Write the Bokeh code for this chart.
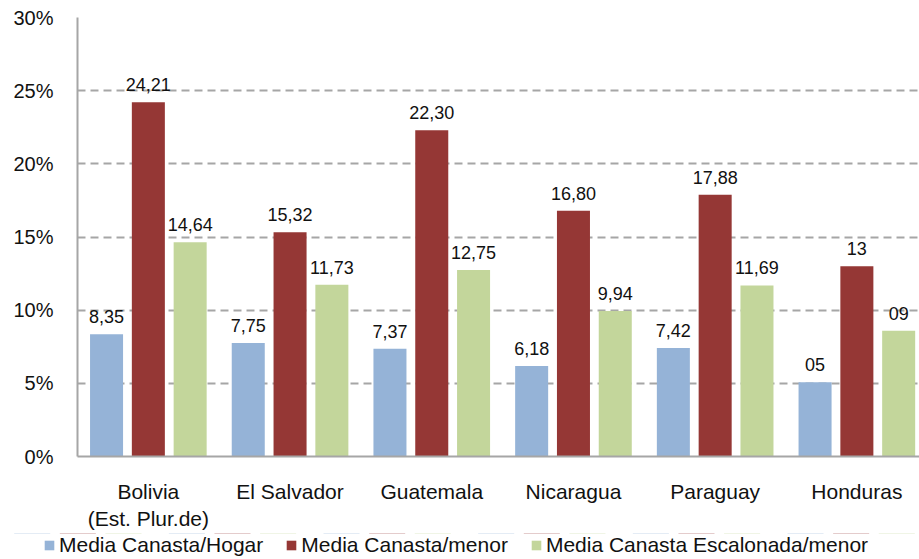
from bokeh.plotting import figure
from bokeh.layouts import column, row
from bokeh.models import (ColumnDataSource, Range1d, FixedTicker, PrintfTickFormatter,
                          LabelSet, Legend, LegendItem)
from bokeh.core.properties import value
from bokeh.embed import file_html
from bokeh.resources import INLINE

categories = ["Bolivia\n(Est. Plur.de)", "El Salvador", "Guatemala", "Nicaragua", "Paraguay", "Honduras"]
series_names = ["Media Canasta/Hogar", "Media Canasta/menor", "Media Canasta Escalonada/menor"]
hogar = [8.35, 7.75, 7.37, 6.18, 7.42, 5.07]
menor = [24.21, 15.32, 22.30, 16.80, 17.88, 13.0]
escalonada = [14.64, 11.73, 12.75, 9.94, 11.69, 8.6]
hogar_labels = ["8,35", "7,75", "7,37", "6,18", "7,42", "05"]
menor_labels = ["24,21", "15,32", "22,30", "16,80", "17,88", "13"]
escalonada_labels = ["14,64", "11,73", "12,75", "9,94", "11,69", "09"]
y_ticks = [0, 5, 10, 15, 20, 25, 30]

colors = ["#95B3D7", "#953735", "#C3D69B"]
offsets = [-0.295, 0.0, 0.295]
bar_w = 0.233
FONT = "Liberation Sans"
TXT = "#111111"

p = figure(frame_width=842, frame_height=439, output_backend="svg", toolbar_location=None,
           x_range=Range1d(0, 5.942), y_range=Range1d(0, 30),
           min_border_left=77, min_border_right=0, min_border_top=17, min_border_bottom=75)
p.outline_line_color = None
p.background_fill_color = "white"
p.border_fill_color = "white"

centers = [i + 0.5 for i in range(len(categories))]
sources = []
for vals, labs, col, off in zip([hogar, menor, escalonada],
                                [hogar_labels, menor_labels, escalonada_labels],
                                colors, offsets):
    src = ColumnDataSource(dict(x=[c + off for c in centers], top=vals, lab=labs))
    sources.append(src)
    p.vbar(x="x", top="top", bottom=0, width=bar_w, source=src,
           fill_color=col, line_color=None)
    p.add_layout(LabelSet(x="x", y="top", text="lab", source=src, y_offset=11,
                          text_align="center", text_baseline="alphabetic",
                          text_font=value(FONT), text_font_size=value("18px"),
                          text_color=value(TXT)))

# grid
p.xgrid.grid_line_color = None
p.ygrid.ticker = FixedTicker(ticks=y_ticks[1:])
p.ygrid.grid_line_color = "#A6A6A6"
p.ygrid.grid_line_dash = "8 5"
p.ygrid.grid_line_width = 1.8

# y axis
p.yaxis.ticker = FixedTicker(ticks=y_ticks)
p.yaxis.formatter = PrintfTickFormatter(format="%d%%")
p.yaxis.axis_line_color = "#A6A6A6"
p.yaxis.axis_line_width = 2
p.yaxis.major_tick_line_color = None
p.yaxis.minor_tick_line_color = None
p.yaxis.major_tick_out = 0
p.yaxis.major_tick_in = 0
p.yaxis.major_label_standoff = 24
p.yaxis.major_label_text_font = FONT
p.yaxis.major_label_text_font_size = "20px"
p.yaxis.major_label_text_color = TXT

# x axis
p.xaxis.ticker = FixedTicker(ticks=centers)
p.xaxis.major_label_overrides = {c: name for c, name in zip(centers, categories)}
p.xaxis.axis_line_color = "#A6A6A6"
p.xaxis.axis_line_width = 2
p.xaxis.major_tick_line_color = None
p.xaxis.minor_tick_line_color = None
p.xaxis.major_tick_out = 0
p.xaxis.major_tick_in = 0
p.xaxis.major_label_standoff = 23
p.xaxis.major_label_text_font = FONT
p.xaxis.major_label_text_font_size = "21px"
p.xaxis.major_label_text_color = TXT

# legend strip below the chart (series bars drawn far outside its visible range)
lg = figure(width=919, height=28, output_backend="svg", toolbar_location=None,
            x_range=Range1d(0, 5.942), y_range=Range1d(-1000, -999),
            x_axis_type=None, y_axis_type=None,
            min_border_left=0, min_border_right=0, min_border_top=0, min_border_bottom=0)
lg.outline_line_color = None
lg.background_fill_color = "white"
lg.border_fill_color = "white"
items = []
for name, col, src in zip(series_names, colors, sources):
    r = lg.vbar(x="x", top="top", bottom=0, width=bar_w, source=src,
                fill_color=col, line_color=None)
    items.append(LegendItem(label=name, renderers=[r]))
legend = Legend(items=items, orientation="horizontal", location=(43, 4),
                glyph_width=12, glyph_height=12, label_standoff=4, spacing=22,
                padding=0, margin=0, border_line_color=None, background_fill_alpha=0,
                label_text_font=FONT, label_text_font_size="21px", label_text_color=TXT,
                label_height=20)
lg.add_layout(legend, "center")

layout = column(p, row(lg), spacing=0)
open("out.html", "w").write(file_html(layout, INLINE))
